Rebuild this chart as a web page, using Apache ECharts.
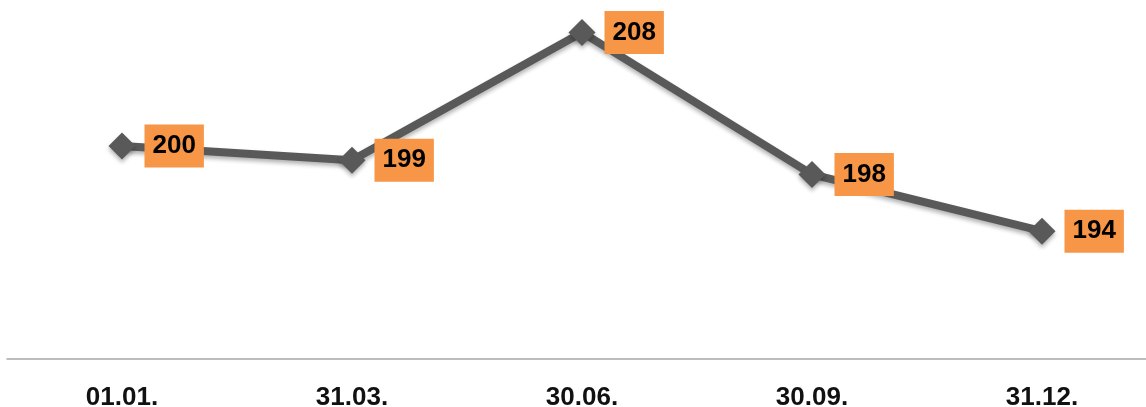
<!DOCTYPE html>
<html>
<head>
<meta charset="utf-8">
<script src="https://cdn.jsdelivr.net/npm/echarts@6/dist/echarts.min.js"></script>
<style>
html,body{margin:0;padding:0;background:#fff;}
#c{width:1146px;height:407px;}
</style>
</head>
<body>
<div id="c"></div>
<script>
const categories = ['01.01.', '31.03.', '30.06.', '30.09.', '31.12.'];
const values = [200, 199, 208, 198, 194];

const chart = echarts.init(document.getElementById('c'), null, {renderer: 'canvas'});
chart.setOption({
  animation: false,
  backgroundColor: '#ffffff',
  grid: {left: 7, width: 1150, top: 4, bottom: 48, outerBoundsMode: 'none', containLabel: false},
  xAxis: {
    type: 'category',
    data: categories,
    boundaryGap: true,
    axisLine: {show: true, lineStyle: {color: '#a6a6a6', width: 1.5}},
    axisTick: {show: false},
    splitLine: {show: false},
    axisLabel: {
      color: '#111111',
      fontFamily: '"Liberation Sans", Arial, sans-serif',
      fontWeight: 'bold',
      fontSize: 26,
      margin: 26
    }
  },
  yAxis: {
    type: 'value',
    min: 185,
    max: 210,
    show: false,
    splitLine: {show: false}
  },
  series: [{
    type: 'line',
    data: values,
    symbol: 'diamond',
    symbolSize: 27,
    lineStyle: {
      color: '#595959', width: 8,
      shadowColor: 'rgba(0,0,0,0.3)', shadowBlur: 4, shadowOffsetY: 3
    },
    itemStyle: {
      color: '#595959',
      shadowColor: 'rgba(0,0,0,0.3)', shadowBlur: 4, shadowOffsetY: 3
    },
    label: {
      show: true,
      position: 'right',
      distance: 9,
      backgroundColor: '#F79646',
      color: '#000000',
      fontFamily: '"Liberation Sans", Arial, sans-serif',
      fontWeight: 'bold',
      fontSize: 26,
      padding: [9, 8, 8, 8],
      lineHeight: 26
    }
  }]
});
</script>
</body>
</html>
